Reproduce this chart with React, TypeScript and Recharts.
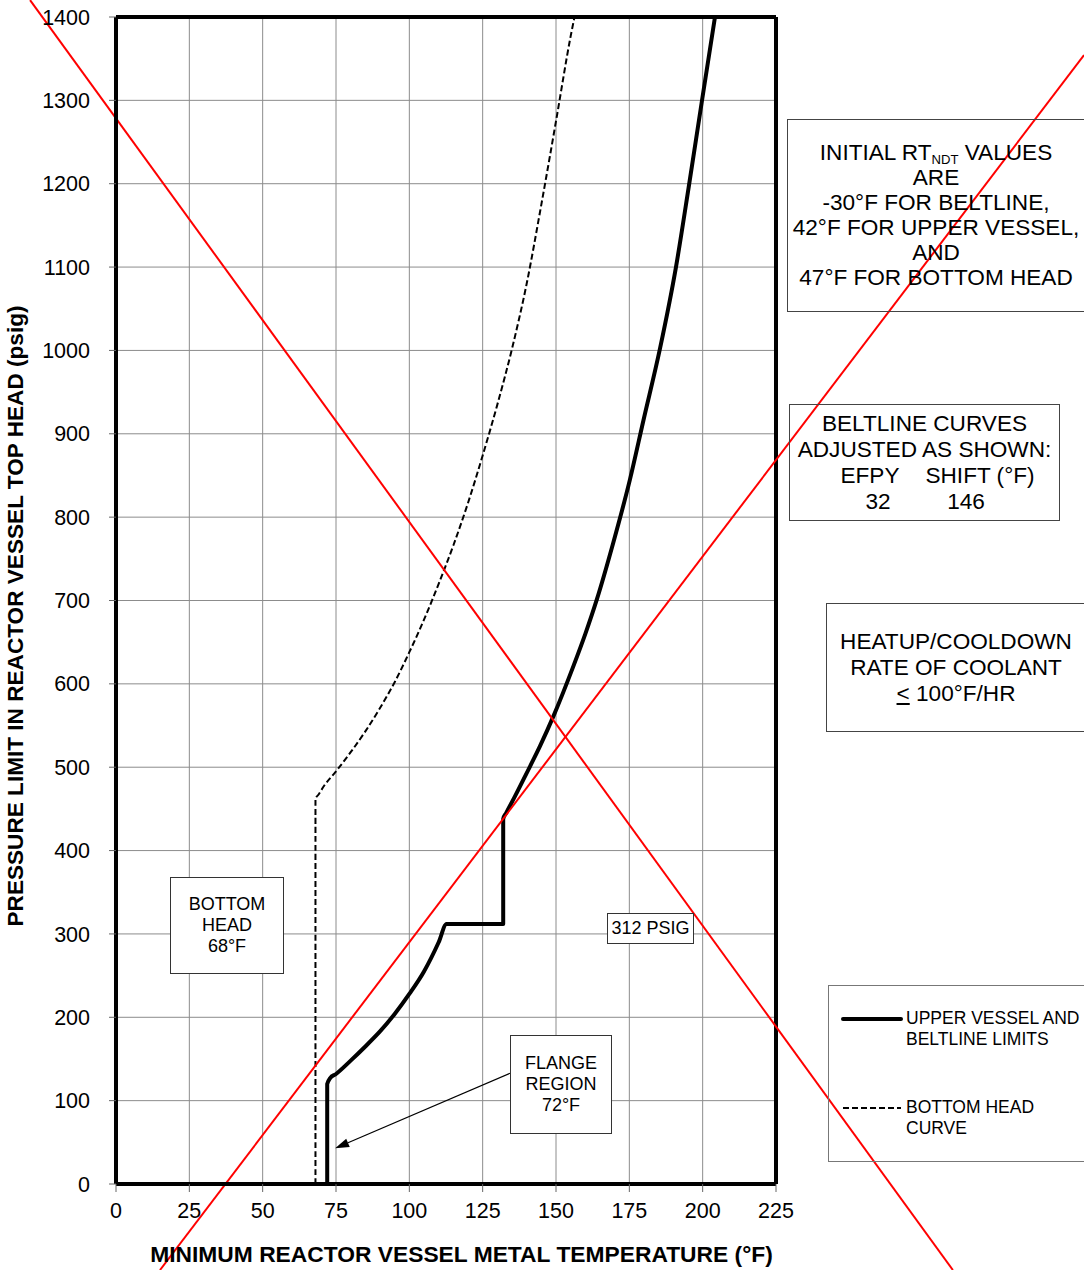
import React from 'react'
import { CartesianGrid, Legend, Line, LineChart, ReferenceLine, XAxis, YAxis } from 'recharts'

// upper vessel + beltline limit curve (solid)
const upperTemp = [72, 72, 73, 75, 80, 85, 90, 95, 100, 105, 110, 112.7, 132, 132, 133, 136, 140, 144.5, 149.1, 155.9, 160, 163.9, 169.5, 175.2, 179.8, 185.5, 190.9, 195.2, 199.6, 204.2]
const upperPsig = [0, 120, 127, 132, 148, 165, 183, 204, 228, 255, 290, 312, 312, 438, 445, 465, 493, 525, 561, 621, 660, 701, 769, 845, 916, 1003, 1100, 1195, 1296, 1400]

// bottom head curve (dashed)
const bottomTemp = [68, 68, 69, 71, 75, 80, 85, 90, 95, 100, 105, 110, 115, 120, 125, 130, 135, 140, 145, 150, 155, 156.3]
const bottomPsig = [0, 462, 467, 478, 495, 518, 543, 571, 602, 638, 677, 720, 766, 817, 874, 935, 1002, 1080, 1175, 1275, 1377, 1400]

const tempTicks = [0, 25, 50, 75, 100, 125, 150, 175, 200, 225]
const psigTicks = [0, 100, 200, 300, 400, 500, 600, 700, 800, 900, 1000, 1100, 1200, 1300, 1400]

// red cross-out strokes and the flange pointer, in chart units
const crossA = [{ x: -29.3, y: 1420.3 }, { x: 285.3, y: -103.2 }]
const crossB = [{ x: 15, y: -103.2 }, { x: 330, y: 1354.4 }]
const flangeArrow = [{ x: 134.3, y: 132.8 }, { x: 74.7, y: 42.8 }]

const upperData = upperTemp.map((t, i) => ({ t, p: upperPsig[i] }))
const bottomData = bottomTemp.map((t, i) => ({ t, p: bottomPsig[i] }))

const FONT = "'Liberation Sans', Arial, sans-serif"

function ArrowShape(props: any) {
  const { x1, y1, x2, y2 } = props
  const a = Math.atan2(y2 - y1, x2 - x1)
  const len = 14
  const w = 4.5
  const bx = x2 - len * Math.cos(a)
  const by = y2 - len * Math.sin(a)
  const pts = [
    `${x2},${y2}`,
    `${bx + w * Math.sin(a)},${by - w * Math.cos(a)}`,
    `${bx - w * Math.sin(a)},${by + w * Math.cos(a)}`,
  ].join(' ')
  return (
    <g>
      <line x1={x1} y1={y1} x2={bx} y2={by} stroke="#000" strokeWidth={1.2} />
      <polygon points={pts} fill="#000" />
    </g>
  )
}

function LegendBox({ payload }: any) {
  const items = (payload || []).filter((e: any) => e.value)
  return (
    <div
      style={{
        width: 260,
        height: 177,
        boxSizing: 'border-box',
        border: '1px solid #777',
        background: 'transparent',
        fontFamily: FONT,
        fontSize: 17.5,
        lineHeight: '21px',
        color: '#000',
        position: 'relative',
      }}
    >
      {items.map((e: any, i: number) => (
        <div key={e.value} style={{ position: 'absolute', left: 0, top: i === 0 ? 22 : 111, display: 'flex' }}>
          <svg width={77} height={21} style={{ display: 'block' }}>
            <line
              x1={14}
              x2={72}
              y1={11}
              y2={11}
              stroke="#000"
              strokeWidth={e.payload?.strokeWidth ?? 2}
              strokeDasharray={e.payload?.strokeDasharray}
              strokeLinecap={e.payload?.strokeDasharray ? 'butt' : 'round'}
            />
          </svg>
          <span style={{ whiteSpace: 'pre-line' }}>{e.value}</span>
        </div>
      ))}
    </div>
  )
}

const boxIn: React.CSSProperties = {
  position: 'absolute',
  boxSizing: 'border-box',
  border: '1px solid #333',
  background: '#fff',
  fontFamily: FONT,
  fontSize: 18,
  lineHeight: '21px',
  display: 'flex',
  flexDirection: 'column',
  alignItems: 'center',
  justifyContent: 'center',
  textAlign: 'center',
  color: '#000',
}

const boxOut: React.CSSProperties = {
  position: 'absolute',
  boxSizing: 'border-box',
  border: '1px solid #444',
  background: 'transparent',
  fontFamily: FONT,
  fontSize: 22.6,
  textAlign: 'center',
  color: '#000',
}

export default function App() {
  return (
    <div
      style={{
        position: 'absolute',
        left: 0,
        top: 0,
        width: 1084,
        height: 1270,
        overflow: 'hidden',
        background: '#fff',
        fontFamily: FONT,
      }}
    >
      <LineChart width={1084} height={1270} margin={{ top: 17, right: 308, bottom: 0, left: 0 }}>
        <CartesianGrid stroke="#8c8c8c" strokeWidth={1} />
        <XAxis
          dataKey="t"
          type="number"
          domain={[0, 225]}
          ticks={tempTicks}
          allowDataOverflow
          height={86}
          tickSize={8}
          tickMargin={11}
          axisLine={{ stroke: '#000', strokeWidth: 4 }}
          tickLine={{ stroke: '#666' }}
          tick={{ fill: '#000', fontSize: 21.5, fontFamily: FONT }}
          label={{
            content: (props: any) => {
              const vb = props.viewBox
              return (
                <text
                  x={vb.x + vb.width / 2 + 15.5}
                  y={vb.y + 77.7}
                  textAnchor="middle"
                  fontFamily={FONT}
                  fontWeight="bold"
                  fontSize={22.8}
                  fill="#000"
                >
                  MINIMUM REACTOR VESSEL METAL TEMPERATURE (°F)
                </text>
              )
            },
          }}
        />
        <YAxis
          type="number"
          domain={[0, 1400]}
          ticks={psigTicks}
          allowDataOverflow
          width={116}
          tickSize={7}
          tickMargin={19}
          axisLine={{ stroke: '#000', strokeWidth: 4 }}
          tickLine={{ stroke: '#666' }}
          tick={{ fill: '#000', fontSize: 21.5, fontFamily: FONT }}
          label={{
            content: (props: any) => {
              const vb = props.viewBox
              const cy = vb.y + vb.height / 2 + 15.5
              return (
                <text
                  x={23}
                  y={cy}
                  transform={`rotate(-90 23 ${cy})`}
                  textAnchor="middle"
                  fontFamily={FONT}
                  fontWeight="bold"
                  fontSize={22.6}
                  fill="#000"
                >
                  PRESSURE LIMIT IN REACTOR VESSEL TOP HEAD (psig)
                </text>
              )
            },
          }}
        />
        <ReferenceLine x={225} stroke="#000" strokeWidth={4} />
        <ReferenceLine y={1400} stroke="#000" strokeWidth={4} />
        <Line
          data={bottomData}
          dataKey="p"
          name={'BOTTOM HEAD\nCURVE'}
          type="monotoneX"
          stroke="#000"
          strokeWidth={2}
          strokeDasharray="6 3"
          dot={false}
          activeDot={false}
          isAnimationActive={false}
        />
        <Line
          data={upperData}
          dataKey="p"
          name={'UPPER VESSEL AND\nBELTLINE LIMITS'}
          type="monotoneX"
          stroke="#000"
          strokeWidth={4}
          strokeLinejoin="round"
          dot={false}
          activeDot={false}
          isAnimationActive={false}
        />
        <ReferenceLine segment={flangeArrow} ifOverflow="visible" shape={ArrowShape} />
        <ReferenceLine segment={crossA} ifOverflow="visible" stroke="#ff0000" strokeWidth={2} />
        <ReferenceLine segment={crossB} ifOverflow="visible" stroke="#ff0000" strokeWidth={2} />
        <Legend
          layout="horizontal"
          verticalAlign="middle"
          align="center"
          itemSorter={null as any}
          content={(p: any) => <LegendBox payload={[...(p.payload || [])].reverse()} />}
          wrapperStyle={{ position: 'absolute', left: 828, top: 985, width: 260, height: 177 }}
        />
      </LineChart>

      {/* notes inside the plot */}
      <div style={{ ...boxIn, left: 170, top: 877, width: 114, height: 97 }}>
        <div>BOTTOM</div>
        <div>HEAD</div>
        <div>68°F</div>
      </div>
      <div style={{ ...boxIn, left: 607, top: 913, width: 87, height: 31 }}>
        <div>312 PSIG</div>
      </div>
      <div style={{ ...boxIn, left: 510, top: 1035, width: 102, height: 99 }}>
        <div>FLANGE</div>
        <div>REGION</div>
        <div>72°F</div>
      </div>

      {/* notes on the right */}
      <div style={{ ...boxOut, left: 787, top: 119, width: 298, height: 193, paddingTop: 21, lineHeight: '24.9px' }}>
        <div>
          INITIAL RT
          <span style={{ fontSize: '0.58em', position: 'relative', top: '0.28em', lineHeight: 0 }}>NDT</span> VALUES
        </div>
        <div>ARE</div>
        <div>-30°F FOR BELTLINE,</div>
        <div style={{ whiteSpace: 'nowrap' }}>42°F FOR UPPER VESSEL,</div>
        <div>AND</div>
        <div>47°F FOR BOTTOM HEAD</div>
      </div>

      <div style={{ ...boxOut, left: 789, top: 404, width: 271, height: 117, paddingTop: 6, lineHeight: '26px' }}>
        <div>BELTLINE CURVES</div>
        <div style={{ whiteSpace: 'nowrap' }}>ADJUSTED AS SHOWN:</div>
        <div style={{ position: 'relative', height: 26 }}>
          <span style={{ position: 'absolute', left: 80, transform: 'translateX(-50%)' }}>EFPY</span>
          <span style={{ position: 'absolute', left: 190, transform: 'translateX(-50%)', whiteSpace: 'nowrap' }}>SHIFT (°F)</span>
        </div>
        <div style={{ position: 'relative', height: 26 }}>
          <span style={{ position: 'absolute', left: 88, transform: 'translateX(-50%)' }}>32</span>
          <span style={{ position: 'absolute', left: 176, transform: 'translateX(-50%)' }}>146</span>
        </div>
      </div>

      <div style={{ ...boxOut, left: 826, top: 603, width: 260, height: 129, paddingTop: 25, lineHeight: '26px' }}>
        <div>HEATUP/COOLDOWN</div>
        <div>RATE OF COOLANT</div>
        <div>
          <span style={{ textDecoration: 'underline' }}>&lt;</span> 100°F/HR
        </div>
      </div>
    </div>
  )
}
